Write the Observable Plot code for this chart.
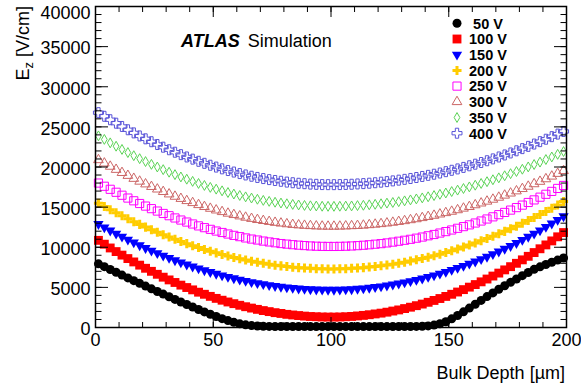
<!DOCTYPE html>
<html>
<head>
<meta charset="utf-8">
<script src="https://cdn.jsdelivr.net/npm/d3@7"></script>
<script src="https://cdn.jsdelivr.net/npm/@observablehq/plot@0.6"></script>
<style>
  html, body { margin: 0; padding: 0; background: white; }
  svg { display: block; }
</style>
</head>
<body>
<div id="chart"></div>
<script>
// ---- data ----
const depth = [1.25,3.75,6.25,8.75,11.25,13.75,16.25,18.75,21.25,23.75,26.25,28.75,31.25,33.75,36.25,38.75,41.25,43.75,46.25,48.75,
  51.25,53.75,56.25,58.75,61.25,63.75,66.25,68.75,71.25,73.75,76.25,78.75,81.25,83.75,86.25,88.75,91.25,93.75,96.25,98.75,
  101.25,103.75,106.25,108.75,111.25,113.75,116.25,118.75,121.25,123.75,126.25,128.75,131.25,133.75,136.25,138.75,141.25,143.75,146.25,148.75,
  151.25,153.75,156.25,158.75,161.25,163.75,166.25,168.75,171.25,173.75,176.25,178.75,181.25,183.75,186.25,188.75,191.25,193.75,196.25,198.75];

const v50 = [7930,7580,7230,6880,6530,6180,5840,5500,5160,4820,4490,4160,3830,3500,3180,2860,2550,2240,1940,1650,
  1370,1100,860,640,460,330,240,190,160,140,130,130,120,120,120,110,110,110,110,110,
  110,110,110,110,110,110,110,110,110,110,120,120,120,130,140,160,200,300,470,720,
  1080,1500,1950,2420,2900,3380,3850,4310,4760,5200,5630,6050,6460,6860,7250,7560,7850,8130,8400,8660];

const v100 = [10860,10380,9910,9460,9020,8590,8170,7770,7380,7000,6630,6270,5930,5610,5280,4980,4690,4400,4140,3880,
  3630,3400,3180,2970,2770,2590,2420,2260,2110,1980,1850,1750,1640,1560,1490,1420,1370,1340,1310,1300,
  1300,1310,1340,1380,1440,1510,1590,1690,1790,1910,2050,2190,2360,2530,2720,2920,3140,3370,3610,3870,
  4140,4420,4720,5030,5350,5690,6040,6410,6780,7180,7580,8000,8430,8870,9340,9810,10290,10790,11300,11830];

const v150 = [12890,12480,12090,11700,11320,10950,10600,10250,9910,9580,9270,8960,8670,8380,8120,7850,7600,7360,7130,6910,
  6690,6500,6310,6140,5960,5800,5650,5530,5400,5280,5170,5080,5000,4930,4860,4810,4770,4730,4710,4700,
  4700,4710,4740,4770,4820,4880,4950,5040,5120,5230,5350,5480,5620,5770,5940,6110,6310,6500,6710,6930,
  7170,7420,7670,7950,8220,8520,8820,9140,9470,9810,10160,10530,10910,11300,11690,12100,12530,12960,13410,13860];

const v200 = [15490,15080,14680,14300,13920,13550,13190,12850,12510,12180,11870,11570,11270,10990,10710,10450,10200,9960,9730,9510,
  9300,9100,8910,8730,8560,8400,8260,8120,8000,7880,7770,7680,7600,7520,7460,7410,7370,7330,7310,7300,
  7300,7310,7330,7370,7410,7460,7530,7600,7690,7790,7890,8010,8140,8280,8430,8590,8760,8950,9140,9340,
  9560,9790,10020,10270,10530,10800,11080,11370,11670,11980,12300,12630,12980,13330,13700,14070,14460,14860,15270,15690];

const v250 = [18000,17600,17220,16850,16480,16130,15790,15450,15130,14810,14510,14210,13930,13650,13390,13140,12900,12660,12440,12230,
  12020,11840,11650,11480,11320,11160,11020,10900,10770,10660,10560,10460,10390,10320,10260,10210,10160,10130,10110,10100,
  10100,10110,10130,10160,10200,10250,10310,10380,10450,10540,10640,10750,10870,10990,11130,11270,11430,11590,11770,11950,
  12150,12360,12570,12790,13020,13270,13520,13790,14060,14340,14630,14940,15250,15580,15900,16240,16600,16960,17330,17700];

const v300 = [20890,20470,20070,19680,19290,18930,18560,18210,17870,17550,17230,16920,16620,16330,16060,15790,15540,15290,15050,14830,
  14620,14420,14220,14050,13880,13720,13570,13430,13310,13190,13080,12990,12900,12820,12760,12710,12670,12630,12610,12600,
  12600,12610,12630,12660,12690,12730,12790,12850,12920,13000,13090,13190,13290,13410,13530,13670,13810,13960,14120,14290,
  14460,14650,14850,15050,15270,15490,15720,15960,16210,16470,16730,17000,17290,17580,17890,18190,18510,18840,19180,19530];

const v350 = [23880,23440,23010,22590,22190,21800,21410,21040,20680,20330,20000,19670,19350,19050,18760,18480,18210,17950,17700,17460,
  17240,17030,16820,16630,16450,16280,16130,15980,15840,15720,15610,15510,15420,15340,15270,15210,15170,15140,15110,15100,
  15100,15110,15130,15150,15190,15230,15290,15350,15420,15500,15580,15680,15780,15900,16020,16150,16290,16440,16600,16760,
  16940,17120,17320,17520,17730,17950,18170,18410,18650,18910,19170,19440,19720,20010,20310,20610,20930,21250,21580,21930];

const v400 = [26770,26320,25890,25460,25050,24640,24250,23870,23510,23150,22800,22470,22150,21840,21540,21250,20980,20710,20460,20220,
  19990,19770,19560,19370,19180,19010,18850,18700,18560,18430,18320,18220,18120,18040,17970,17920,17870,17840,17810,17800,
  17800,17810,17830,17850,17890,17930,17980,18040,18110,18180,18270,18360,18460,18570,18690,18820,18960,19100,19250,19420,
  19590,19760,19950,20150,20350,20560,20780,21010,21250,21500,21750,22020,22290,22570,22860,23160,23460,23780,24100,24430];

const seriesLabels = ["50 V","100 V","150 V","200 V","250 V","300 V","350 V","400 V"];
const seriesValues = [v50, v100, v150, v200, v250, v300, v350, v400];

const xTickValues = [0, 50, 100, 150, 200];
const yTickValues = [0, 5000, 10000, 15000, 20000, 25000, 30000, 35000, 40000];
const xMinorTicks = d3.range(0, 201, 10);
const yMinorTicks = d3.range(0, 40001, 1000);

const xTitle = "Bulk Depth [\u00b5m]";
const yTitleMain = "E", yTitleSub = "z", yTitleRest = " [V/cm]";
const experimentLabel = "ATLAS", experimentTag = "Simulation";

// ---- styles ----
const styles = [
  {color: "#000000", symbol: d3.symbolCircle,   filled: true,  r: 4.5},
  {color: "#ff0000", symbol: d3.symbolSquare,   filled: true,  r: 5},
  {color: "#0000ff", symbol: d3.symbolTriangle, filled: true,  r: 3.8, rotate: 180},
  {color: "#ffcc00", symbol: d3.symbolCross,    filled: true,  r: 3.8},
  {color: "#ff00ff", symbol: d3.symbolSquare,   filled: false, r: 4.6},
  {color: "#cc6666", symbol: d3.symbolTriangle, filled: false, r: 3.6},
  {color: "#59d354", symbol: d3.symbolDiamond,  filled: false, r: 3.0},
  {color: "#5954d8", symbol: d3.symbolCross,    filled: false, r: 4.2}
];

const font = "'Liberation Sans', Arial, Helvetica, sans-serif";

const dotMarks = seriesValues.map((vals, i) => {
  const s = styles[i];
  return Plot.dot(depth, {
    x: depth, y: vals, r: s.r, symbol: s.symbol,
    fill: s.filled ? s.color : "none",
    stroke: s.filled ? "none" : s.color,
    strokeWidth: 1,
    rotate: s.rotate || 0
  });
});

const yLabelsLow = yTickValues.filter(v => v < 40000);
const yLabelsTop = yTickValues.filter(v => v >= 40000);

const chart = Plot.plot({
  width: 581, height: 391,
  marginLeft: 95, marginRight: 15, marginTop: 6, marginBottom: 64,
  x: {domain: [0, 200]},
  y: {domain: [0, 40000]},
  style: {fontFamily: font, fontSize: "18px", background: "white", color: "black"},
  marks: [
    ...dotMarks,
    // inward major/minor ticks on all four sides
    Plot.axisY(yTickValues, {tickSize: 13, dx: 13, fill: "none", label: null}),
    Plot.axisY(yMinorTicks, {tickSize: 6.5, dx: 6.5, fill: "none", label: null}),
    Plot.axisY(yTickValues, {anchor: "right", tickSize: 13, dx: -13, fill: "none", label: null}),
    Plot.axisY(yMinorTicks, {anchor: "right", tickSize: 6.5, dx: -6.5, fill: "none", label: null}),
    Plot.axisX(xTickValues, {tickSize: 10, dy: -10, fill: "none", label: null}),
    Plot.axisX(xMinorTicks, {tickSize: 5, dy: -5, fill: "none", label: null}),
    Plot.axisX(xTickValues, {anchor: "top", tickSize: 10, dy: 10, fill: "none", label: null}),
    Plot.axisX(xMinorTicks, {anchor: "top", tickSize: 5, dy: 5, fill: "none", label: null}),
    // tick labels
    Plot.axisY(yLabelsLow, {tickSize: 0, tickPadding: 5, dy: 2, label: null, tickFormat: d => String(d)}),
    Plot.axisY(yLabelsTop, {tickSize: 0, tickPadding: 5, dy: 7, label: null, tickFormat: d => String(d)}),
    Plot.axisX(xTickValues, {tickSize: 0, tickPadding: 6, label: null, tickFormat: d => String(d)}),
    Plot.frame({stroke: "black", strokeWidth: 1.5})
  ]
});
document.getElementById("chart").append(chart);

const svg = d3.select(chart);

// axis titles
const yt = svg.append("text")
  .attr("transform", "translate(29,6) rotate(-90)")
  .attr("text-anchor", "end")
  .attr("font-family", font).attr("font-size", 18).attr("fill", "black");
yt.append("tspan").text(yTitleMain);
yt.append("tspan").attr("font-size", 13).attr("dy", 4).text(yTitleSub);
yt.append("tspan").attr("dy", -4).text(yTitleRest);

svg.append("text")
  .attr("x", 565).attr("y", 379)
  .attr("text-anchor", "end")
  .attr("font-family", font).attr("font-size", 18).attr("fill", "black")
  .text(xTitle);

// ATLAS Simulation label
const at = svg.append("text")
  .attr("x", 181).attr("y", 47)
  .attr("text-anchor", "start")
  .attr("font-family", font).attr("font-size", 18).attr("fill", "black");
at.append("tspan").attr("font-weight", "bold").attr("font-style", "italic").text(experimentLabel);
at.append("tspan").attr("dx", 8).text(experimentTag);

// legend
const lg = svg.append("g");
seriesLabels.forEach((label, i) => {
  const s = styles[i];
  const y = 23.3 + 15.7 * i;
  const g = lg.append("g").attr("transform", `translate(457,${y})`);
  g.append("path")
    .attr("d", d3.symbol(s.symbol, Math.PI * s.r * s.r)())
    .attr("transform", s.rotate ? `rotate(${s.rotate})` : null)
    .attr("fill", s.filled ? s.color : "none")
    .attr("stroke", s.filled ? "none" : s.color)
    .attr("stroke-width", 1);
  lg.append("text")
    .attr("x", 488).attr("y", y + 5.3)
    .attr("text-anchor", "middle")
    .attr("font-family", font).attr("font-size", 14.5).attr("font-weight", "bold")
    .attr("fill", "black")
    .text(label);
});
</script>
</body>
</html>
